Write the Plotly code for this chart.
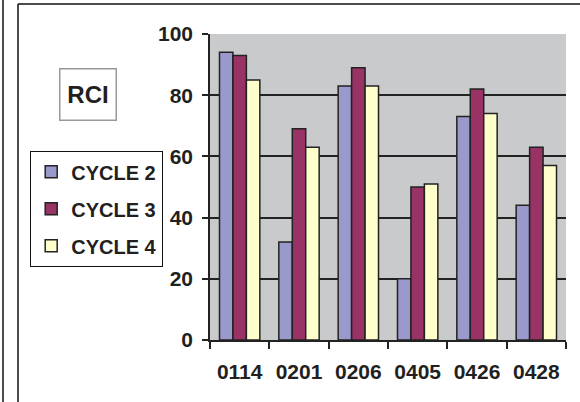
import plotly.graph_objects as go

categories = ["0114", "0201", "0206", "0405", "0426", "0428"]
cycle2 = [94, 32, 83, 20, 73, 44]
cycle3 = [93, 69, 89, 50, 82, 63]
cycle4 = [85, 63, 83, 51, 74, 57]
series_names = ["CYCLE 2", "CYCLE 3", "CYCLE 4"]
series_colors = ["#9999CC", "#993366", "#FFFFCC"]
y_ticks = [0, 20, 40, 60, 80, 100]

W, H = 580, 402
L, R, T, B = 210, 14, 34, 62
pw, ph = W - L - R, H - T - B


def px_x(x):
    return (x - L) / pw


def px_y(y):
    return (H - B - y) / ph


ink = "#231F20"
fig = go.Figure()
for i, (name, vals) in enumerate(zip(series_names, [cycle2, cycle3, cycle4])):
    fig.add_trace(go.Bar(
        x=categories, y=vals, name=name,
        marker=dict(color=series_colors[i], line=dict(color="#222222", width=1.5)),
        legendgroup=name,
    ))

fig.update_layout(
    width=W, height=H,
    margin=dict(l=L, r=R, t=T, b=B),
    paper_bgcolor="white",
    plot_bgcolor="#C9CACC",
    barmode="group",
    bargap=0.32,
    bargroupgap=0,
    font=dict(family="Liberation Sans, Arial", size=20, color=ink),
    showlegend=True,
    legend=dict(
        x=px_x(30), y=px_y(151), xanchor="left", yanchor="top",
        bordercolor="#111111", borderwidth=1.2, bgcolor="white",
        font=dict(size=20, family="Liberation Sans, Arial", weight="bold", color=ink),
        tracegroupgap=8,
        itemwidth=30,
    ),
)
fig.update_xaxes(
    type="category", tickson="boundaries", ticks="outside", ticklen=7,
    tickwidth=1.5, tickcolor="#222222", showgrid=False,
    showline=True, linecolor="#222222", linewidth=1.5,
    tickfont=dict(size=21, weight="bold", color=ink),
    ticklabelstandoff=12,
)
fig.update_yaxes(
    range=[0, 100], tickvals=y_ticks, ticks="outside", ticklen=6,
    tickwidth=1.5, tickcolor="#222222",
    showgrid=True, gridcolor="#222222", gridwidth=1.5,
    showline=True, linecolor="#222222", linewidth=1.5,
    zeroline=False,
    tickfont=dict(size=21, weight="bold", color=ink),
    ticklabelstandoff=5,
)

# outer frame lines
frame = dict(color="#111111", width=1.5)
fig.add_shape(type="line", xref="paper", yref="paper", x0=px_x(3), x1=px_x(3), y0=px_y(0), y1=px_y(H), line=frame)
fig.add_shape(type="line", xref="paper", yref="paper", x0=px_x(18), x1=px_x(18), y0=px_y(4), y1=px_y(H), line=frame)
fig.add_shape(type="line", xref="paper", yref="paper", x0=px_x(18), x1=px_x(W), y0=px_y(4), y1=px_y(4), line=frame)

fig.add_annotation(
    text="<b>RCI</b>", xref="paper", yref="paper",
    x=px_x(87.5), y=px_y(94), xanchor="center", yanchor="middle",
    showarrow=False, font=dict(size=24, color=ink),
    bordercolor="#999999", borderwidth=1.5, borderpad=0,
    width=55, height=50, bgcolor="white",
)

fig.write_html(
    "out.html",
    config={"displayModeBar": False},
    post_script="document.body.style.margin='0';document.body.style.overflow='hidden';",
)
